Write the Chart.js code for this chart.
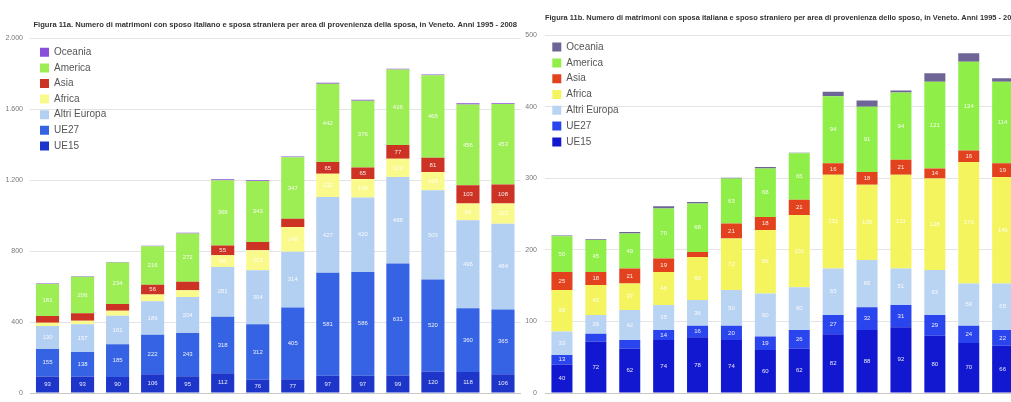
<!DOCTYPE html>
<html>
<head>
<meta charset="utf-8">
<script src="https://cdn.jsdelivr.net/npm/chart.js@4.4.1/dist/chart.umd.min.js"></script>
<style>
  html, body { margin: 0; padding: 0; background: #fff; overflow: hidden; width: 1011px; height: 402px; }
  canvas { position: absolute; top: 0; }
  #left { left: 0; }
  #right { left: 522px; }
</style>
</head>
<body>
<canvas id="left" width="522" height="407"></canvas>
<canvas id="right" width="508" height="407"></canvas>
<script>
// anni
const years = ['1995', '1996', '1997', '1998', '1999', '2000', '2001', '2002', '2003', '2004', '2005', '2006', '2007', '2008'];
const areas = ['UE15', 'UE27', 'Altri Europa', 'Africa', 'Asia', 'America', 'Oceania'];

// Figura 11a - sposo italiano e sposa straniera
const sposaUE15 = [93, 93, 90, 106, 95, 112, 76, 77, 97, 97, 99, 120, 118, 106];
const sposaUE27 = [155, 138, 185, 222, 243, 318, 312, 405, 581, 586, 631, 520, 360, 365];
const sposaAltriEuropa = [130, 157, 161, 189, 204, 281, 304, 314, 427, 420, 488, 503, 496, 484];
const sposaAfrica = [18, 19, 28, 38, 38, 66, 113, 140, 132, 104, 103, 103, 94, 113];
const sposaAsia = [38, 42, 38, 56, 47, 55, 47, 47, 65, 65, 77, 81, 103, 108];
const sposaAmerica = [181, 206, 234, 216, 272, 368, 343, 347, 442, 376, 426, 465, 456, 453];
const sposaOceania = [3, 3, 3, 4, 4, 5, 4, 4, 5, 5, 4, 4, 7, 5];
const yTicksLeft = [0, 400, 800, 1200, 1600, 2000];

// Figura 11b - sposa italiana e sposo straniero
const sposoUE15 = [40, 72, 62, 74, 78, 74, 60, 62, 82, 88, 92, 80, 70, 66];
const sposoUE27 = [13, 11, 12, 14, 16, 20, 19, 26, 27, 32, 31, 29, 24, 22];
const sposoAltriEuropa = [33, 26, 42, 35, 36, 50, 60, 60, 65, 66, 51, 63, 59, 65];
const sposoAfrica = [58, 42, 37, 46, 60, 72, 89, 101, 131, 105, 131, 128, 170, 149];
const sposoAsia = [25, 18, 21, 19, 7, 21, 18, 21, 16, 18, 21, 14, 16, 19];
const sposoAmerica = [50, 45, 49, 70, 68, 63, 68, 65, 94, 91, 94, 121, 124, 114];
const sposoOceania = [1, 1, 2, 3, 2, 1, 2, 1, 6, 9, 3, 12, 12, 5];
const yTicksRight = [0, 100, 200, 300, 400, 500];

const coloriSposa = ['#1d36c9', '#3563e3', '#b3cff2', '#fafa8c', '#cc3324', '#9ded55', '#8a4fd8'];
const coloriSposo = ['#1118cf', '#2b45ee', '#b9d3f3', '#f4f55e', '#e2431e', '#8fef48', '#6e6496'];

function fmt(v) {
  if (v >= 1000) return Math.floor(v / 1000) + '.' + String(v % 1000).padStart(3, '0');
  return String(v);
}

// etichette bianche dentro le barre
const valueLabels = {
  id: 'valueLabels',
  afterDatasetsDraw(chart) {
    const ctx = chart.ctx;
    ctx.save();
    ctx.font = '6px "Liberation Sans", Arial, sans-serif';
    ctx.fillStyle = 'rgba(255,255,255,0.9)';
    ctx.textAlign = 'center';
    ctx.textBaseline = 'middle';
    chart.data.datasets.forEach((ds, i) => {
      chart.getDatasetMeta(i).data.forEach((bar, j) => {
        if (Math.abs(bar.base - bar.y) < 9) return;
        ctx.fillText(ds.data[j], bar.x, (bar.y + bar.base) / 2);
      });
    });
    ctx.restore();
  }
};

// mette la legenda in alto a sinistra dentro l'area del grafico
const legendShift = {
  id: 'legendShift',
  afterLayout(chart, args, opts) {
    const lg = chart.legend;
    const h = lg.height;
    lg.left = chart.chartArea.left + opts.dx;
    lg.top = chart.chartArea.top + opts.dy;
    lg.right = lg.left + lg.width;
    lg.bottom = lg.top + h;
  }
};

function makeChart(id, title, series, colors, ticks, cfg) {
  const datasets = series.map((d, i) => ({
    label: areas[i],
    data: d,
    backgroundColor: colors[i],
    borderWidth: 0,
    barPercentage: cfg.barPct,
    categoryPercentage: 1
  }));
  return new Chart(document.getElementById(id), {
    type: 'bar',
    data: { labels: years, datasets: datasets },
    plugins: [valueLabels, legendShift],
    options: {
      responsive: false,
      animation: false,
      layout: { padding: { left: 0, right: cfg.padRight, top: 0, bottom: 0 } },
      plugins: {
        tooltip: { enabled: false },
        legendShift: { dx: cfg.dx, dy: cfg.dy },
        title: {
          display: true,
          text: title,
          align: cfg.titleAlign,
          fullSize: false,
          color: '#333',
          font: { size: 7.6, weight: 'bold', family: '"Liberation Sans", Arial, sans-serif', lineHeight: 1.2 },
          padding: { top: cfg.titleTop, bottom: cfg.titleBottom }
        },
        legend: {
          position: 'chartArea',
          align: 'start',
          reverse: true,
          labels: {
            boxWidth: 9,
            boxHeight: 9,
            padding: cfg.legPad,
            color: '#555',
            font: { size: 10, family: '"Liberation Sans", Arial, sans-serif' }
          }
        }
      },
      scales: {
        x: {
          stacked: true,
          grid: { display: false },
          border: { display: true, color: '#c8c8c8' },
          ticks: { color: '#777', font: { size: 7 }, padding: 3, maxRotation: 0 },
          afterFit(scale) { scale.height = 14; }
        },
        y: {
          stacked: true,
          min: 0,
          max: ticks[ticks.length - 1],
          afterBuildTicks(scale) { scale.ticks = ticks.map(v => ({ value: v })); },
          grid: { color: '#e4e4e4', drawTicks: false },
          border: { display: false },
          ticks: { color: '#777', font: { size: 7 }, padding: cfg.tickPad, callback: v => fmt(v) },
          afterFit(scale) { scale.width = cfg.axisWidth; }
        }
      }
    }
  });
}

makeChart('left',
  'Figura 11a. Numero di matrimoni con sposo italiano e sposa straniera per area di provenienza della sposa, in Veneto. Anni 1995 - 2008',
  [sposaUE15, sposaUE27, sposaAltriEuropa, sposaAfrica, sposaAsia, sposaAmerica, sposaOceania],
  coloriSposa, yTicksLeft,
  { barPct: 0.66, padRight: 1.5, axisWidth: 30, tickPad: 7, titleAlign: 'center', titleTop: 20.6, titleBottom: 8.6, legPad: 5.6, dx: 4.4, dy: 3.4 });

makeChart('right',
  'Figura 11b. Numero di matrimoni con sposa italiana e sposo straniero per area di provenienza dello sposo, in Veneto. Anni 1995 - 2008',
  [sposoUE15, sposoUE27, sposoAltriEuropa, sposoAfrica, sposoAsia, sposoAmerica, sposoOceania],
  coloriSposo, yTicksRight,
  { barPct: 0.62, padRight: 10.4, axisWidth: 23, tickPad: 8, titleAlign: 'start', titleTop: 13.6, titleBottom: 12.6, legPad: 5.8, dx: 1.5, dy: 1 });
</script>
</body>
</html>
